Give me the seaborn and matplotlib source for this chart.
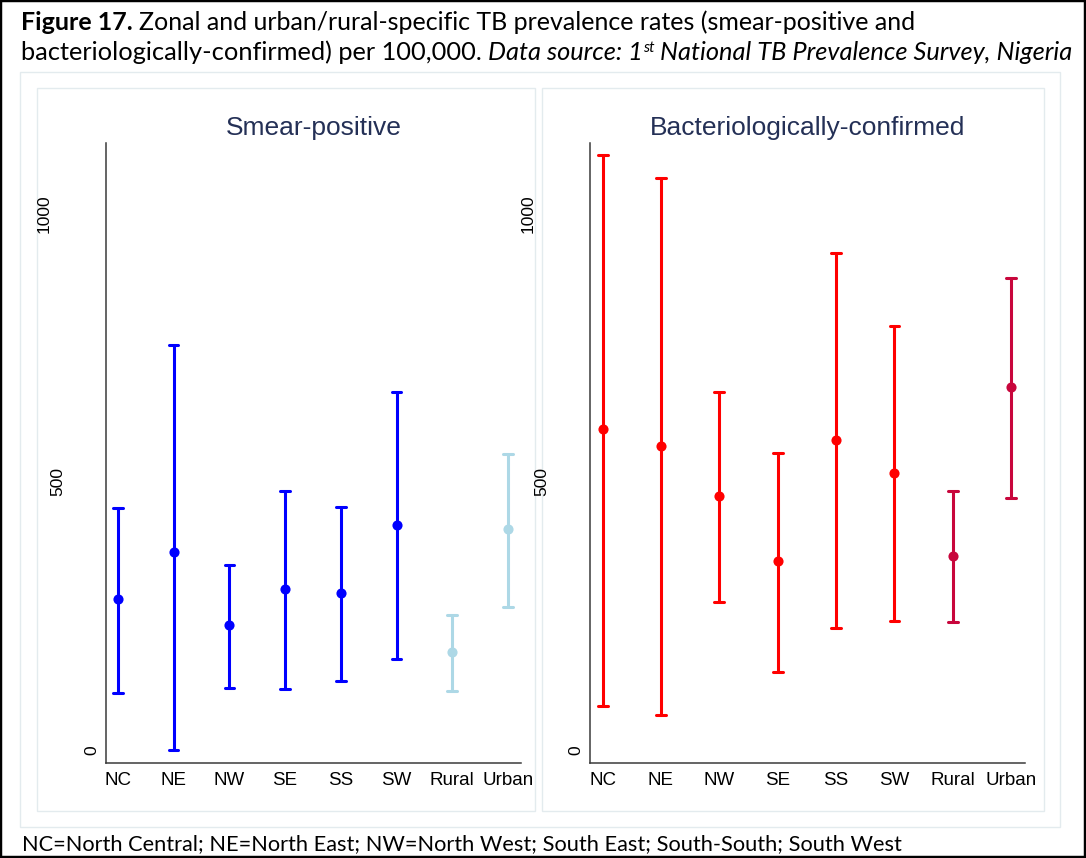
import matplotlib
matplotlib.use('Agg')
import matplotlib.pyplot as plt
import matplotlib.transforms as mtransforms
from matplotlib.patches import Rectangle
import seaborn as sns
import pandas as pd

# ---------------- data ----------------
categories = ['NC', 'NE', 'NW', 'SE', 'SS', 'SW', 'Rural', 'Urban']
cat_group = ['zone', 'zone', 'zone', 'zone', 'zone', 'zone', 'area', 'area']

smear_est = [281, 369, 233, 300, 292, 420, 182, 412]
smear_lo = [107, 0, 116, 113, 129, 169, 110, 266]
smear_hi = [451, 756, 346, 483, 453, 668, 252, 552]

bact_est = [598, 567, 473, 353, 578, 517, 362, 678]
bact_lo = [82, 65, 276, 146, 227, 240, 238, 470]
bact_hi = [1110, 1067, 668, 555, 927, 791, 484, 880]

y_ticks = [0, 500, 1000]
panel_titles = ['Smear-positive', 'Bacteriologically-confirmed']

title_l1_bold = 'Figure 17.'
title_l1 = ' Zonal and urban/rural-specific TB prevalence rates (smear-positive and'
title_l2 = 'bacteriologically-confirmed) per 100,000.'
title_l2_it = ' Data source: 1'
title_sup = 'st'
title_l2_it2 = ' National TB Prevalence Survey, Nigeria'
footnote = 'NC=North Central; NE=North East; NW=North West; South East; South-South; South West'

# ---------------- style ----------------
sns.set_theme(style='white')
plt.rcParams['font.family'] = ['Liberation Sans', 'DejaVu Sans']
title_family = ['Lato', 'Liberation Sans', 'DejaVu Sans']

W, H = 1086, 858
fig = plt.figure(figsize=(W / 100, H / 100), dpi=100)
fig.patch.set_facecolor('white')
renderer = fig.canvas.get_renderer()


def fx(x):
    return x / W


def fy(y):
    return 1 - y / H


def box(x0, y0, x1, y1, color, lw):
    fig.add_artist(Rectangle((fx(x0), fy(y1)), fx(x1) - fx(x0), fy(y0) - fy(y1),
                             transform=fig.transFigure, fill=False,
                             edgecolor=color, linewidth=lw, zorder=0))


box(0, 0, W, H, 'black', 3.2)
box(20, 72, 1060, 827, '#E3EBEE', 1.0)
box(37, 88, 535, 811, '#E3EBEE', 1.0)
box(542, 88, 1044, 811, '#E3EBEE', 1.0)


def measure(s, kw):
    t = fig.text(0, 0, s, **kw)
    w = t.get_window_extent(renderer).width
    t.remove()
    return w


def rich_line(pieces, x0, ybase, size, family, target_w):
    def layout(sz):
        total = 0
        items = []
        for txt, wt, st, rel, rise in pieces:
            kw = dict(fontsize=sz * rel, fontweight=wt, fontstyle=st, family=family)
            lead = len(txt) - len(txt.lstrip(' '))
            core = txt.strip(' ')
            gap = lead * (measure('a a', kw) - measure('aa', kw))
            w = measure(core, kw)
            items.append((gap, core, kw, rise, w))
            total += gap + w
        return total, items

    total, _ = layout(size)
    sz = size * target_w / total
    _, items = layout(sz)
    x = x0
    for gap, core, kw, rise, w in items:
        x += gap
        fig.text(fx(x), fy(ybase - rise), core, ha='left', va='baseline',
                 color='black', **kw)
        x += w


rich_line([(title_l1_bold, 'bold', 'normal', 1.0, 0),
           (title_l1, 'normal', 'normal', 1.0, 0)],
          21, 29.5, 16, title_family, 921 - 21)
rich_line([(title_l2, 'normal', 'normal', 1.0, 0),
           (title_l2_it, 'normal', 'italic', 1.0, 0),
           (title_sup, 'normal', 'italic', 0.6, 7),
           (title_l2_it2, 'normal', 'italic', 1.0, 0)],
          21, 59.5, 16, title_family, 1073 - 21)
rich_line([(footnote, 'normal', 'normal', 1.0, 0)],
          22, 850, 13, title_family, 897 - 22)

# ---------------- panels ----------------
ax1 = fig.add_axes([fx(106), fy(763), (521 - 106) / W, (763 - 143) / H])
ax2 = fig.add_axes([fx(590), fy(763), (1025 - 590) / W, (763 - 143) / H])

ylabel_offsets_px = {0: 14, 500: 48, 1000: 62}


def panel(ax, est, lo, hi, colors, title):
    df = pd.DataFrame({
        'category': categories * 3,
        'group': cat_group * 3,
        'value': list(lo) + list(est) + list(hi),
    })
    sns.pointplot(data=df, x='category', y='value', hue='group',
                  order=categories, hue_order=['zone', 'area'], palette=colors,
                  estimator='median', errorbar=lambda v: (v.min(), v.max()),
                  capsize=0.17, linestyle='none', markers='o',
                  markersize=7.3, markeredgewidth=0,
                  err_kws={'linewidth': 2.2}, dodge=False, legend=False, ax=ax)
    for art in ax.lines + list(ax.collections):
        art.set_clip_on(False)
    ax.set_xlim(-0.215, 7.235)
    ax.set_ylim(-24.3, 1132.5)
    ax.set_xlabel('')
    ax.set_ylabel('')
    ax.set_facecolor('white')
    for s in ['top', 'right']:
        ax.spines[s].set_visible(False)
    for s in ['left', 'bottom']:
        ax.spines[s].set_color('#3a3a3a')
        ax.spines[s].set_linewidth(1.1)
    ax.tick_params(axis='x', length=0, pad=6.5, labelsize=13.5, labelcolor='black')
    ax.set_yticks([])
    for v in y_ticks:
        off = ylabel_offsets_px[v]
        tr = (mtransforms.blended_transform_factory(ax.transAxes, ax.transData)
              + mtransforms.ScaledTranslation(-off / 100, 0, fig.dpi_scale_trans))
        ax.text(0, v, str(v), transform=tr, rotation=90, ha='center', va='center',
                fontsize=12.5, color='black', clip_on=False)
    ax.set_title(title, fontsize=19, color='#243056', pad=5.8)


panel(ax1, smear_est, smear_lo, smear_hi, ['#0000FF', '#ADD8E6'], panel_titles[0])
panel(ax2, bact_est, bact_lo, bact_hi, ['#FF0000', '#C8063C'], panel_titles[1])

fig.savefig('out.png', dpi=100, facecolor='white')
